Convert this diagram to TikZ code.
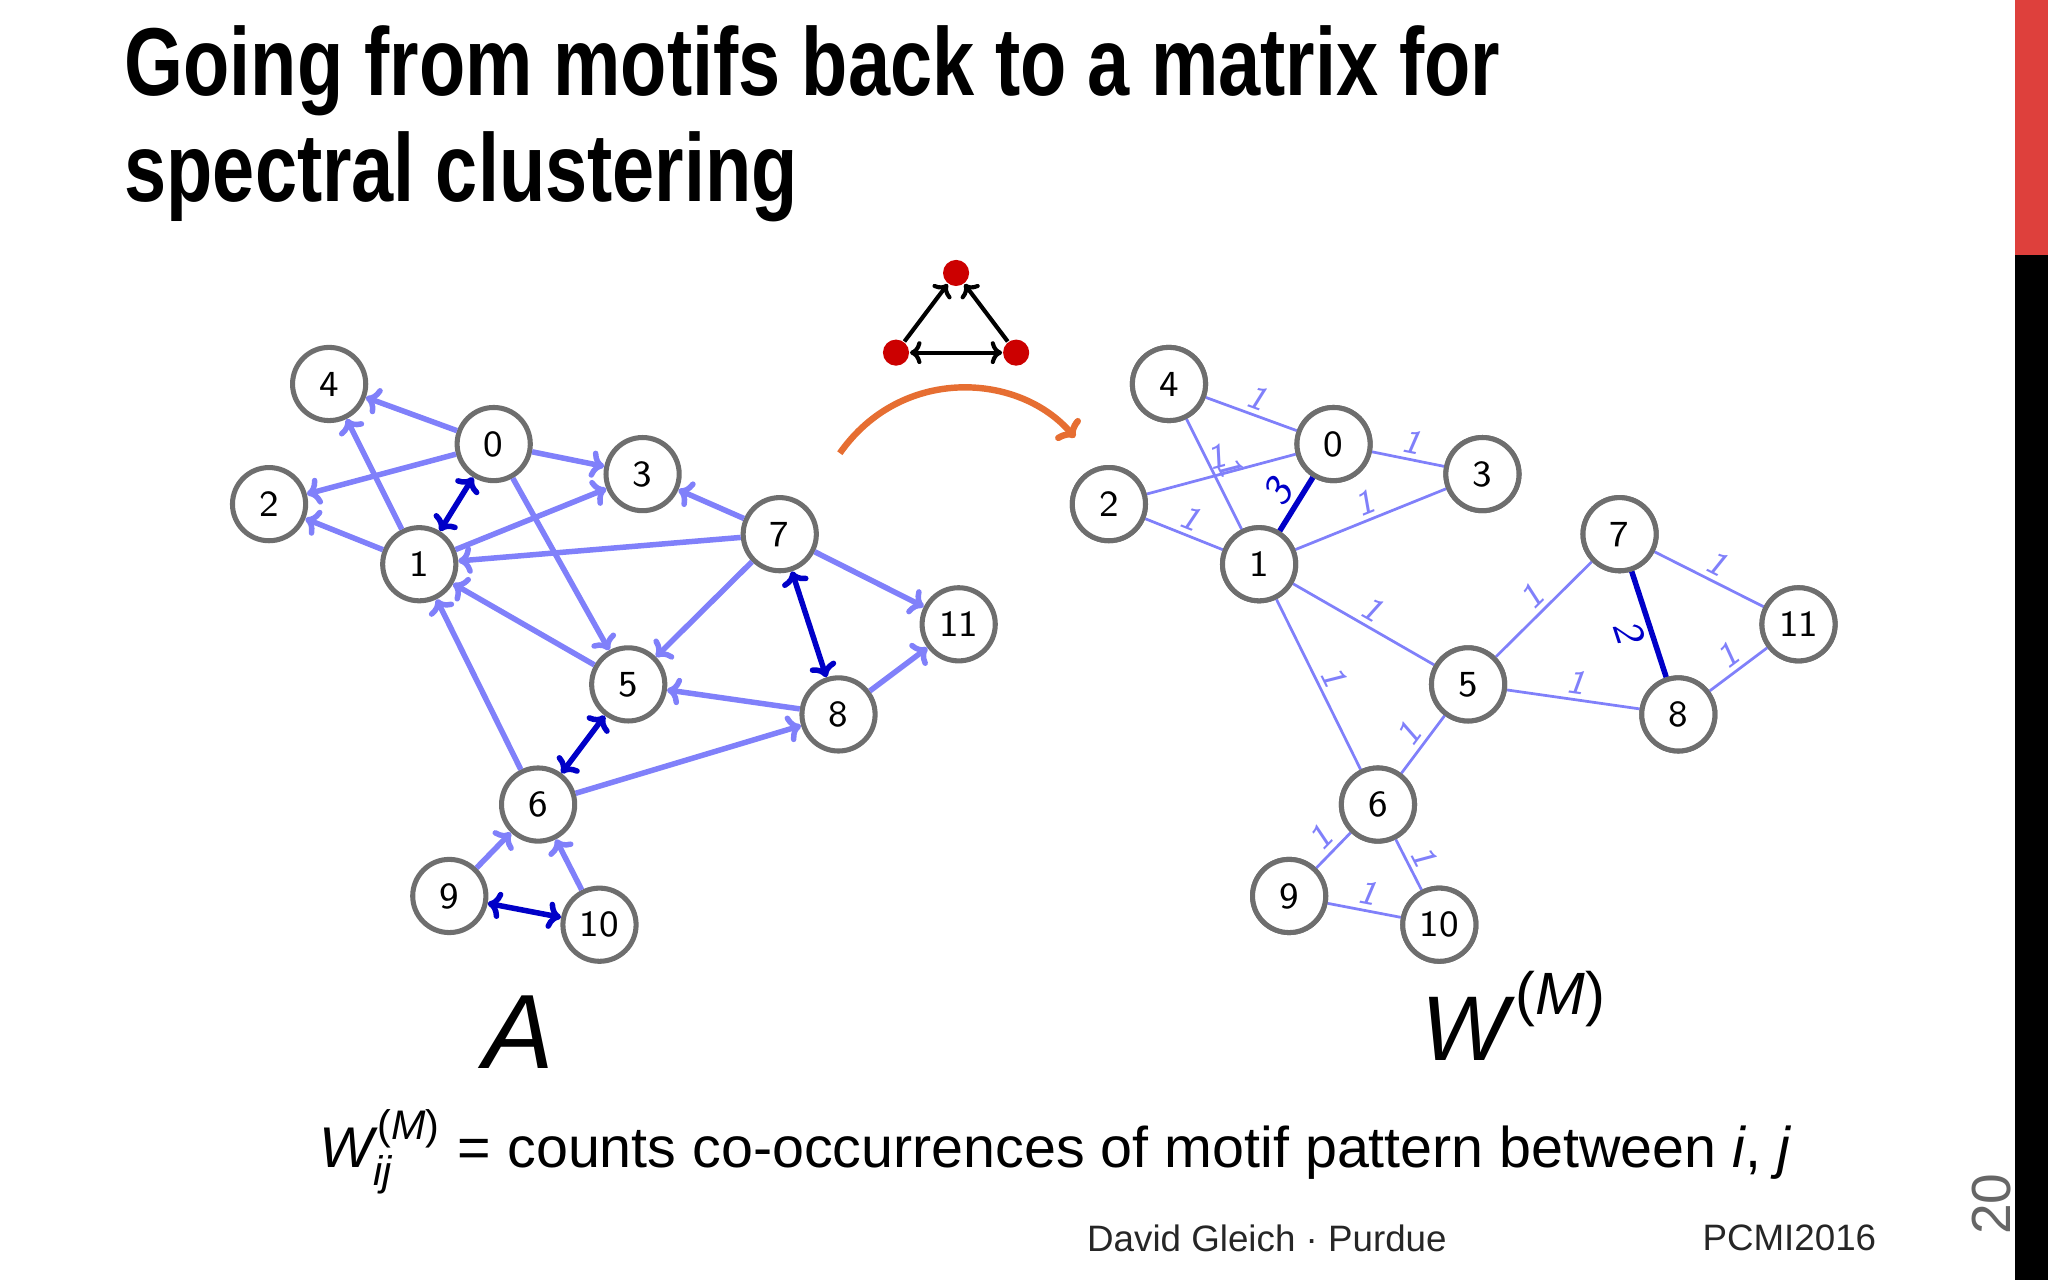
\documentclass[tikz,border=0pt]{standalone}
\usepackage{fontspec}
\setmainfont{Liberation Sans}
\usetikzlibrary{arrows.meta}
\definecolor{lb}{RGB}{128,128,250}
\definecolor{db}{RGB}{0,0,200}
\definecolor{ngray}{RGB}{110,110,110}
\definecolor{ored}{RGB}{222,64,60}
\definecolor{orng}{RGB}{230,110,50}
\begin{document}
\begin{tikzpicture}[x=0.01cm,y=-0.01cm,
  vtx/.style={circle,draw=ngray,line width=1.1pt,fill=white,minimum size=0.56cm,inner sep=0pt,font=\sffamily\fontsize{8}{9}\selectfont},
  ea/.style={lb,line width=1.2pt,-{To[length=3pt,width=6pt]}},
  eb/.style={db,line width=1.2pt,{To[length=3pt,width=6pt]}-{To[length=3pt,width=6pt]}},
  wl/.style={lb,line width=0.6pt},
  wd/.style={db,line width=1.2pt},
  wt/.style={font=\sffamily\itshape\fontsize{7.5}{8}\selectfont,sloped,above,inner sep=1pt},
  dot/.style={circle,fill=red!80!black,minimum size=0.2cm,inner sep=0pt}]
\useasboundingbox (0,0) rectangle (1568,980);
\fill[ored] (1543,0) rectangle (1568,195);
\fill[black] (1543,195) rectangle (1568,980);
\node[anchor=west,font=\bfseries\fontsize{21}{25}\selectfont,align=left] (title) at (83,95) {\scalebox{0.785}[1]{Going from motifs back to a matrix for}\\[-2pt]\scalebox{0.785}[1]{spectral clustering}};
% left graph
\foreach \n/\x/\y in {0/378/340,1/321/432,2/206/386,3/492/363,4/252/294,5/481/524,6/412/616,7/597/409,8/642/547,9/344/686,10/459/708,11/734/478}
  \node[vtx] (a\n) at (\x,\y) {\n};
\foreach \s/\t in {0/4,0/2,0/3,0/5,1/4,1/2,1/3,7/1,5/1,6/1,7/3,7/5,7/11,8/5,8/11,6/8,9/6,10/6}
  \draw[ea] (a\s) -- (a\t);
\foreach \s/\t in {0/1,7/8,6/5,9/10}
  \draw[eb] (a\s) -- (a\t);
% right graph
\foreach \n/\x/\y in {0/378/340,1/321/432,2/206/386,3/492/363,4/252/294,5/481/524,6/412/616,7/597/409,8/642/547,9/344/686,10/459/708,11/734/478}
  \node[vtx] (b\n) at (\x+643,\y) {\n};
\foreach \s/\t in {4/0,4/1,2/0,2/1,0/3,1/3,1/5,1/6,5/7,5/8,5/6,7/11,8/11,6/9,6/10,9/10}
  \draw[wl] (b\s) -- node[wt]{1} (b\t);
\draw[wd] (b1) -- node[wt,db,font=\sffamily\itshape\fontsize{9}{10}\selectfont]{3} (b0);
\draw[wd] (b7) -- node[wt,db,below,font=\sffamily\itshape\fontsize{9}{10}\selectfont]{2} (b8);
\foreach \n in {0,...,11} \node[vtx] at (b\n) {\n};
% motif
\node[dot] (mt) at (732,209) {};
\node[dot] (ml) at (686,270) {};
\node[dot] (mr) at (778,270) {};
\draw[black,line width=0.9pt,-{To[length=2.5pt,width=5pt]}] (ml) -- (mt);
\draw[black,line width=0.9pt,-{To[length=2.5pt,width=5pt]}] (mr) -- (mt);
\draw[black,line width=0.9pt,{To[length=2.5pt,width=5pt]}-{To[length=2.5pt,width=5pt]}] (ml) -- (mr);
\coordinate (arcs) at (643,347);
\coordinate (arce) at (823,335);
\draw[orng,line width=1.4pt,-{To[length=3pt,width=7pt]}] (arcs) .. controls (690,280) and (780,285) .. (arce);
% labels
\node[font=\itshape\fontsize{23}{26}\selectfont] (lA) at (397,790) {A};
\node[font=\fontsize{20}{24}\selectfont,anchor=base west] (lW) at (1076,812) {\textit{W}\raisebox{0.5em}{\fontsize{13}{15}\selectfont(\textit{M})}};
\node[font=\fontsize{12.5}{15}\selectfont] (form) at (808,882) {$\hbox{\textit{W}}^{\hbox{\fontsize{9}{10}\selectfont(\textit{M})}}_{\hbox{\fontsize{9}{10}\selectfont\kern-1pt\textit{ij}}}$ = counts co-occurrences of motif pattern between \textit{i}, \textit{j}};
\node[font=\fontsize{8}{10}\selectfont,color=black!85] (f1) at (970,948) {David Gleich · Purdue};
\node[font=\fontsize{8}{10}\selectfont,color=black!85] (f2) at (1370,948) {PCMI2016};
\node[font=\fontsize{12}{14}\selectfont,color=black!60,rotate=90] (pg) at (1525,922) {20};
\end{tikzpicture}
\end{document}
